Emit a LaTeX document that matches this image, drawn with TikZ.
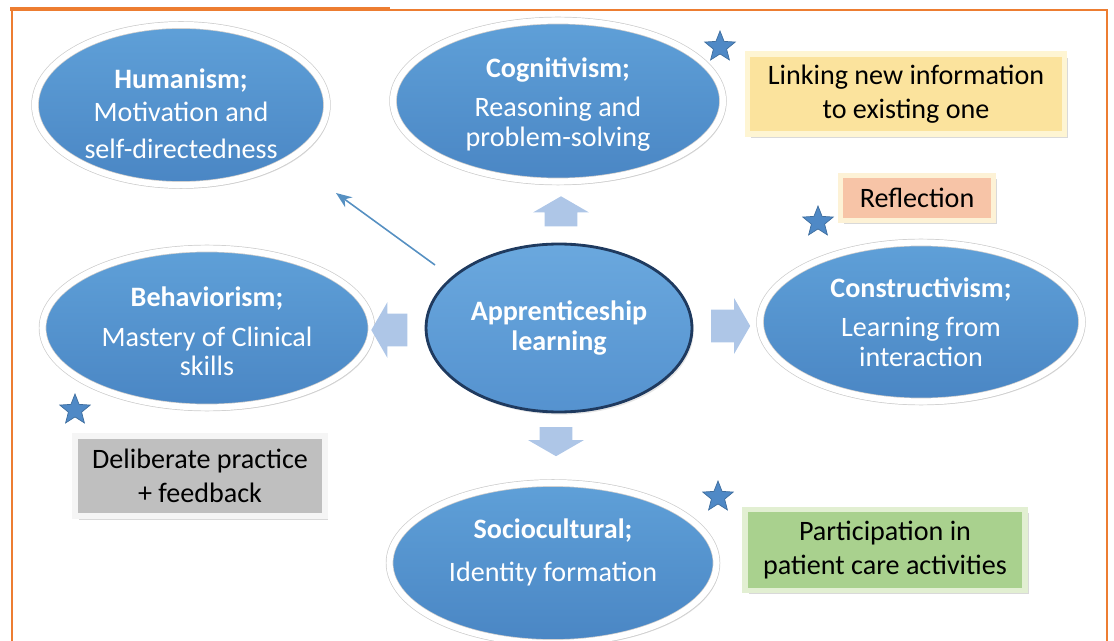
\documentclass[tikz,border=0pt]{standalone}
\usepackage{fontspec}
\setmainfont{Carlito}
\usetikzlibrary{shapes.geometric, shapes.arrows, shadows, positioning, arrows.meta}

\definecolor{frameorange}{HTML}{ED7D31}
\definecolor{ovaltop}{HTML}{5FA0D8}
\definecolor{ovalbot}{HTML}{4A86C4}
\definecolor{hubtop}{HTML}{6AA8DE}
\definecolor{hubbot}{HTML}{5592CF}
\definecolor{hubrim}{HTML}{1F3A5F}
\definecolor{blockblue}{HTML}{AEC6E7}
\definecolor{starblue}{HTML}{4F89C6}
\definecolor{linkfill}{HTML}{FBE39D}
\definecolor{linkrim}{HTML}{FEF5D3}
\definecolor{reflfill}{HTML}{F7C4A7}
\definecolor{reflrim}{HTML}{FDF2D6}
\definecolor{delibfill}{HTML}{BFBFBF}
\definecolor{delibrim}{HTML}{F5F5F5}
\definecolor{partfill}{HTML}{A9D18E}
\definecolor{partrim}{HTML}{E2EFD2}

\tikzset{
	oval/.style={ellipse, inner sep=0pt,
		top color=ovaltop, bottom color=ovalbot,
		draw=gray!40, double=white, double distance=3.5pt, line width=0.4pt,
		drop shadow={opacity=0.25, shadow xshift=1.5pt, shadow yshift=-2pt}},
	ovaltext/.style={align=center, text=white, inner sep=0pt,
		font=\fontsize{16}{17}\selectfont},
	hub/.style={ellipse, inner sep=0pt, align=center, text=white,
		top color=hubtop, bottom color=hubbot, draw=hubrim, line width=1.6pt,
		drop shadow={opacity=0.2, shadow xshift=1pt, shadow yshift=-1.5pt},
		font=\fontsize{16}{17.5}\selectfont\bfseries},
	note/.style={rectangle, inner sep=0pt, align=center, line width=3pt,
		drop shadow={opacity=0.3, shadow xshift=2pt, shadow yshift=-2pt},
		font=\fontsize{16}{19.5}\selectfont},
	bluestar/.style={star, star points=5, star point ratio=2.3, inner sep=0pt,
		minimum size=0.64cm, fill=starblue, draw=starblue!80!black, line width=0.4pt},
	block/.style={single arrow, inner xsep=0pt, inner ysep=0.32cm,
		text height=0pt, text depth=0pt, fill=blockblue,
		minimum width=1.1cm, single arrow head extend=0.23cm,
		single arrow tip angle=120},
	thinarrow/.style={-{Stealth[length=9pt, width=7pt]}, draw=ovaltop!90!black, line width=0.9pt}
}

\begin{document}
\begin{tikzpicture}[x=0.02cm, y=-0.02cm]
	\useasboundingbox (0,0) rectangle (1114,641);

	% frame
	\draw[frameorange, line width=1.6pt] (12,641) -- (12,10) -- (1107,10) -- (1107,641);
	\draw[frameorange, line width=2.4pt] (10,9) -- (390,9);

	% schools of thought
	\node[oval, minimum width=5.84cm, minimum height=3.2cm] (hum) at (181,105) {};
	\node[oval, minimum width=6.6cm, minimum height=3.22cm] (cog) at (558,101) {};
	\node[oval, minimum width=6.58cm, minimum height=3.18cm] (beh) at (207,328) {};
	\node[oval, minimum width=6.44cm, minimum height=3.18cm] (con) at (921,322) {};
	\node[oval, minimum width=6.54cm, minimum height=3.2cm] (soc) at (553,563) {};

	\node[ovaltext] (humtext) at ([yshift=-5pt]hum.center)
		{\textbf{Humanism;}\\[2pt] Motivation and\\[4pt] self-directedness};
	\node[ovaltext] (cogtext) at ([yshift=-2pt]cog.center)
		{\textbf{Cognitivism;}\\[5.5pt] Reasoning and\\ problem-solving};
	\node[ovaltext] (behtext) at ([yshift=-2pt]beh.center)
		{\textbf{Behaviorism;}\\[5.5pt] Mastery of Clinical\\ skills};
	\node[ovaltext] (context) at (con.center)
		{\textbf{Constructivism;}\\[5.5pt] Learning from\\ interaction};
	\node[ovaltext] (soctext) at ([yshift=6pt]soc.center)
		{\textbf{Sociocultural;}\\[7pt] Identity formation};

	% centre
	\node[hub, minimum width=5.32cm, minimum height=3.36cm] (app) at (559,328)
		{Apprenticeship\\ learning};

	% block arrows
	\node[block, minimum height=0.6cm, rotate=90] (up) at (561,216) {};
	\node[block, minimum height=0.72cm, rotate=180] (left) at (394,330) {};
	\node[block, minimum height=0.78cm] (right) at (726,326) {};
	\node[block, minimum height=0.58cm, rotate=-90] (down) at (556,437) {};

	\coordinate (tailH) at (435,265);
	\coordinate (tipH) at (336,193);
	\draw[thinarrow] (tailH) -- (tipH);

	% notes
	\node[note, fill=linkfill, draw=linkrim, minimum width=6.34cm, minimum height=1.6cm] (link) at (906,94)
		{Linking new information\\ to existing one};
	\node[note, fill=reflfill, draw=reflrim, minimum width=3.06cm, minimum height=0.9cm] (refl) at (917,198)
		{Reflection};
	\node[note, fill=delibfill, draw=delibrim, minimum width=5.0cm, minimum height=1.6cm] (delib) at (200,476)
		{Deliberate practice\\ + feedback};
	\node[note, fill=partfill, draw=partrim, minimum width=5.6cm, minimum height=1.62cm] (part) at (885,550)
		{Participation in\\ patient care activities};

	% stars
	\node[bluestar] (s1) at (720,47) {};
	\node[bluestar] (s2) at (818,222) {};
	\node[bluestar] (s3) at (75,410) {};
	\node[bluestar] (s4) at (718,497) {};
\end{tikzpicture}
\end{document}
